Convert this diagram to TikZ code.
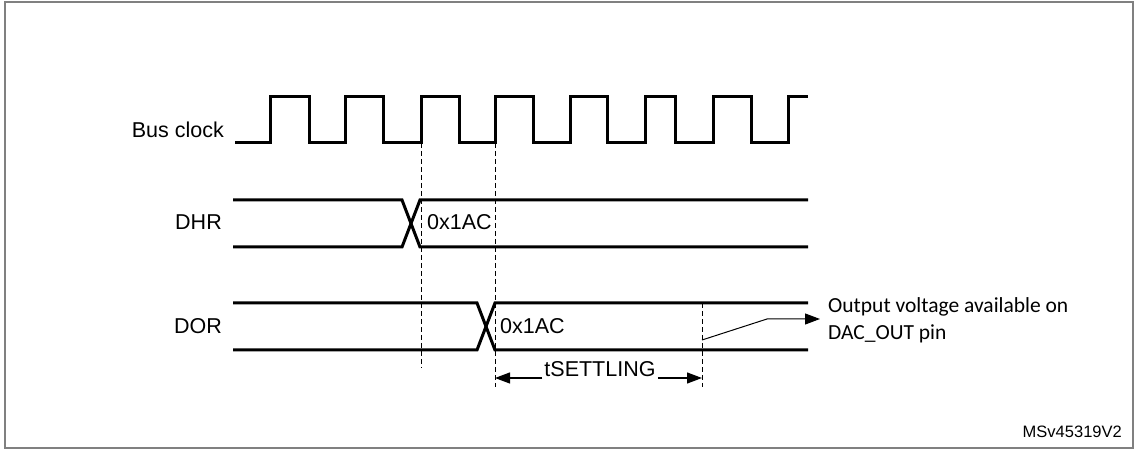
\documentclass[tikz,border=0pt]{standalone}
\usepackage{fontspec}
\setmainfont{Liberation Sans}
\newfontfamily\notefont{Carlito}
\usetikzlibrary{arrows.meta}

\begin{document}
\begin{tikzpicture}[x=1pt, y=-1pt,
    signal/.style={line width=3pt, line join=miter},
    guide/.style={line width=1pt, dash pattern=on 5pt off 3pt},
    sig label/.style={font=\fontsize{21.5}{26}\selectfont, inner sep=0pt},
    note/.style={font=\notefont\fontsize{21.5}{27}\selectfont, align=left, inner sep=0pt},
    tip/.style={-{Triangle[length=15pt, width=11pt]}, line width=1.2pt}
]
    \useasboundingbox (0,0) rectangle (1136,454);
    \draw[gray, line width=1.5pt] (5,2) rectangle (1133,448);

    % signal names
    \node[sig label, anchor=east] (clk) at (224,130) {Bus clock};
    \node[sig label, anchor=east] (dhr) at (222,222) {DHR};
    \node[sig label, anchor=east] (dor) at (222,326) {DOR};

    % bus clock
    \draw[signal] (235,143) -| (270,97) -| (309,143) -| (345,97) -| (383,143)
        -| (421,97) -| (459,143) -| (495,97) -| (533,143) -| (570,97)
        -| (607,143) -| (645,97) -| (675,143) -| (713,97) -| (751,143)
        -| (788,97) -- (808,97);

    % DHR
    \draw[signal] (233,200) -- (402,200) -- (420,247) -- (808,247);
    \draw[signal] (233,247) -- (402,247) -- (420,200) -- (808,200);
    \node[sig label, anchor=west] (dhrval) at (427,222) {0x1AC};

    % DOR
    \draw[signal] (233,303) -- (477,303) -- (495,350) -- (808,350);
    \draw[signal] (233,350) -- (477,350) -- (495,303) -- (808,303);
    \node[sig label, anchor=west] (dorval) at (500,326) {0x1AC};

    % guides
    \draw[guide] (421,143) -- (421,368);
    \draw[guide] (495,143) -- (495,387);
    \draw[guide] (702,303) -- (702,387);

    % settling time
    \coordinate (t0) at (495,378);
    \coordinate (t1) at (702,378);
    \node[sig label, inner xsep=2pt] (settle) at (600,369) {tSETTLING};
    \draw[tip] (settle.west |- t0) -- (t0);
    \draw[tip] (settle.east |- t1) -- (t1);

    % output voltage
    \node[note, anchor=north west] (out) at (828,297)
        {Output voltage available on\\DAC\_OUT pin};
    \coordinate (r0) at (702,340);
    \coordinate (r1) at (767,319);
    \draw[tip, line width=1pt, shorten >=8pt] (r0) -- (r1) -- (out.west |- r1);

    \node[font=\fontsize{16.5}{20}\selectfont, anchor=east, inner sep=0pt] (ref) at (1122,432) {MSv45319V2};
\end{tikzpicture}
\end{document}
